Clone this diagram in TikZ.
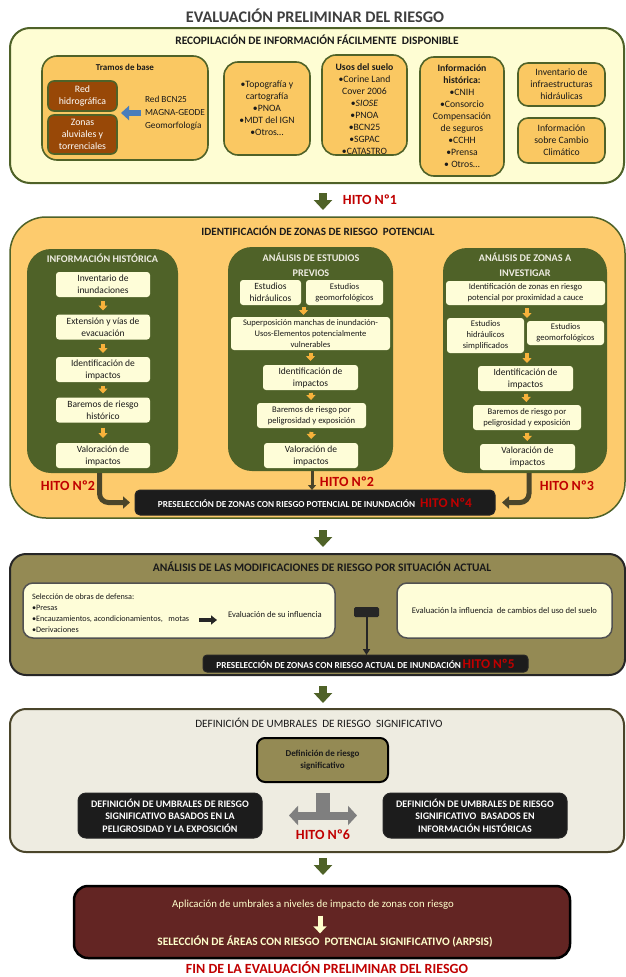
\documentclass[tikz,border=0pt]{standalone}
\usepackage{fontspec}
\setmainfont{Carlito}
\usetikzlibrary{arrows.meta,calc}
\definecolor{ogreen}{HTML}{4F6228}
\definecolor{secone}{HTML}{FEFDD3}
\definecolor{obox}{HTML}{FAC862}
\definecolor{sectwo}{HTML}{FDCB6D}
\definecolor{brownbox}{HTML}{984807}
\definecolor{panelt}{HTML}{EEECE1}
\definecolor{creambox}{HTML}{FEFDD8}
\definecolor{oarrow}{HTML}{F7B23B}
\definecolor{darkarr}{HTML}{4A452A}
\definecolor{barblack}{HTML}{1C1C1C}
\definecolor{khaki}{HTML}{948A54}
\definecolor{secfour}{HTML}{EEECE1}
\definecolor{maroonb}{HTML}{632523}
\definecolor{hitored}{HTML}{C00000}
\definecolor{titlegray}{HTML}{3F3F3F}
\definecolor{bluearr}{HTML}{4A7EBB}
\definecolor{creamtxt}{HTML}{FFFFCC}
\definecolor{tgray}{HTML}{7F7F7F}
\definecolor{txtdark}{HTML}{1A1A1A}
\definecolor{edgedark}{HTML}{262626}
\newcommand{\fsz}[2]{\fontsize{#1}{#2}\selectfont}
\begin{document}
\begin{tikzpicture}[x=1pt,y=-1pt,
  every node/.style={inner sep=0pt, outer sep=0pt},
  sectonebox/.style={draw=ogreen, line width=2pt, fill=secone, rounded corners=20pt},
  ob/.style={draw=ogreen, line width=1.6pt, fill=obox, rounded corners=12pt, align=center, font=\fsz{9.7}{12}, text=txtdark},
  obtext/.style={align=center, font=\fsz{9.7}{12}, text=txtdark},
  brb/.style={draw=ogreen, line width=1.6pt, fill=brownbox, rounded corners=6pt, align=center, text=white, font=\fsz{9.8}{12}},
  secttwobox/.style={draw=ogreen, line width=1.5pt, fill=sectwo, rounded corners=36pt},
  panel/.style={fill=ogreen, rounded corners=24pt},
  paneltitle/.style={align=center, font=\bfseries\fsz{10.2}{15}, text=panelt},
  pbox/.style={fill=creambox, rounded corners=3pt, align=center, font=\fsz{9.5}{12}, text=txtdark},
  pboxs/.style={pbox, font=\fsz{8.6}{11}},
  sarrow/.style={draw=oarrow, line width=4pt, -{Triangle[width=9pt,length=5pt]}},
  carrow/.style={draw=darkarr, line width=5pt, rounded corners=9pt, -{Triangle[width=12pt,length=7pt]}},
  marrow/.style={draw=darkarr, line width=3pt, -{Triangle[width=8pt,length=5pt]}},
  garrow/.style={draw=ogreen, line width=8pt, -{Triangle[width=18pt,length=10pt]}},
  bararea/.style={fill=barblack, draw=edgedark, line width=1pt, rounded corners=5pt, text=white},
  hito/.style={font=\bfseries\fsz{14}{16}, text=hitored},
  headtxt/.style={font=\bfseries\fsz{11.3}{13}, text=txtdark},
  sectthreebox/.style={draw=edgedark, line width=2pt, fill=khaki, rounded corners=16pt},
  creaminner/.style={draw=edgedark!80, line width=1.5pt, fill=creambox, rounded corners=10pt},
  sectfourbox/.style={draw=darkarr, line width=2pt, fill=secfour, rounded corners=16pt},
  blackbox/.style={fill=barblack, draw=edgedark, line width=1pt, rounded corners=8pt, text=white, align=center, font=\bfseries\fsz{10}{12.5}}
]
\useasboundingbox (0,0) rectangle (626,977);
\fill[white] (0,0) rectangle (626,977);

% ---------- title ----------
\node[font=\bfseries\fsz{16.2}{18}, text=titlegray] (title) at (315,16) {EVALUACIÓN PRELIMINAR DEL RIESGO};

% ---------- section 1 ----------
\node[sectonebox, minimum width=614pt, minimum height=155pt] (sec1) at (317,105.5) {};
\node[headtxt, font=\bfseries\fsz{11.4}{13}] (h1) at (317,40) {RECOPILACIÓN DE INFORMACIÓN FÁCILMENTE~ DISPONIBLE};

\node[ob, minimum width=166pt, minimum height=104pt, rounded corners=15pt] (tramos) at (125,108) {};
\node[font=\bfseries\fsz{9}{11}, text=txtdark] (tramost) at (125,67) {Tramos de base};
\node[brb, minimum width=69pt, minimum height=30pt] (redh) at (82.5,96) {Red\\hidrográfica};
\node[brb, minimum width=69pt, minimum height=39pt] (zonas) at (82.5,134.5) {Zonas\\aluviales y\\torrenciales};
\node[anchor=west, align=left, font=\fsz{9.3}{13}, text=txtdark] (bcn) at (145,113) {Red BCN25\\MAGNA-GEODE\\Geomorfología};
\coordinate (bluetip) at (121,113);
\draw[draw=bluearr, line width=6pt, -{Triangle[width=14pt,length=8pt]}] ([xshift=-4pt]bcn.west) -- (bluetip);

\node[ob, minimum width=86pt, minimum height=93pt, rounded corners=14pt] (topo) at (267,108.5) {•Topografía y\\cartografía\\•PNOA\\•MDT del IGN\\•Otros…};
\node[ob, minimum width=85pt, minimum height=100pt, rounded corners=14pt] (usos) at (364.5,105) {};
\node[obtext] (usost) at (364.5,109) {\textbf{Usos del suelo}\\•Corine Land\\Cover 2006\\•\textit{SIOSE}\\•PNOA\\•BCN25\\•SGPAC\\•CATASTRO};
\node[ob, minimum width=84pt, minimum height=119pt, rounded corners=14pt] (infoh) at (462,116.5) {\textbf{Información}\\\textbf{histórica:}\\•CNIH\\•Consorcio\\Compensación\\de seguros\\•CCHH\\•Prensa\\• Otros…};
\node[ob, minimum width=87pt, minimum height=43pt, rounded corners=10pt] (invent) at (561.5,84.5) {Inventario de\\infraestructuras\\hidráulicas};
\node[ob, minimum width=87pt, minimum height=45pt, rounded corners=10pt] (cambio) at (561.5,140.5) {Información\\sobre Cambio\\Climático};

% ---------- arrow 1 ----------
\coordinate (g1a) at (323,193);
\coordinate (g1b) at (323,210);
\draw[garrow] (g1a) -- (g1b);
\node[hito] (hito1) at (370,200) {HITO Nº1};

% ---------- section 2 ----------
\node[secttwobox, minimum width=615pt, minimum height=301pt] (sec2) at (317.5,367.5) {};
\node[headtxt, font=\bfseries\fsz{11.1}{13}] (h2) at (318,231) {IDENTIFICACIÓN DE ZONAS DE RIESGO~ POTENCIAL};

% panel 1
\node[panel, minimum width=151pt, minimum height=224pt] (p1) at (102.5,361) {};
\node[paneltitle] (p1t) at (102.5,258) {INFORMACIÓN HISTÓRICA};
\node[pbox, minimum width=94pt, minimum height=25pt] (b11) at (103,284.5) {Inventario de\\inundaciones};
\node[pbox, minimum width=94pt, minimum height=25pt] (b12) at (103,327) {Extensión y vías de\\evacuación};
\node[pbox, minimum width=94pt, minimum height=25pt] (b13) at (103,369.5) {Identificación de\\impactos};
\node[pbox, minimum width=94pt, minimum height=25pt] (b14) at (103,410) {Baremos de riesgo\\histórico};
\node[pbox, minimum width=94pt, minimum height=25pt] (b15) at (103,455.5) {Valoración de\\impactos};
\draw[sarrow, shorten <=4pt, shorten >=4pt] (b11) -- (b12);
\draw[sarrow, shorten <=4pt, shorten >=4pt] (b12) -- (b13);
\draw[sarrow, shorten <=4pt, shorten >=4pt] (b13) -- (b14);
\draw[sarrow, shorten <=5pt, shorten >=5pt] (b14) -- (b15);

% panel 2
\node[panel, minimum width=165pt, minimum height=224pt] (p2) at (310.5,359) {};
\node[paneltitle] (p2t) at (311,264.5) {ANÁLISIS DE ESTUDIOS\\PREVIOS};
\node[pbox, minimum width=61pt, minimum height=25pt] (e1) at (270.5,292.5) {Estudios\\hidráulicos};
\node[pboxs, minimum width=77pt, minimum height=25pt] (e2) at (344.5,292.5) {Estudios\\geomorfológicos};
\node[pboxs, minimum width=159pt, minimum height=33pt, font=\fsz{8.5}{11}] (e3) at (310.5,333.5) {Superposición manchas de inundación-\\Usos-Elementos potencialmente\\vulnerables};
\node[pbox, minimum width=95pt, minimum height=25pt] (e4) at (310.5,377.5) {Identificación de\\impactos};
\node[pboxs, minimum width=109pt, minimum height=25pt] (e5) at (311.5,415.5) {Baremos de riesgo por\\peligrosidad y exposición};
\node[pbox, minimum width=94pt, minimum height=25pt] (e6) at (311,455.5) {Valoración de\\impactos};
\coordinate (e12) at ($(e1.south east)!0.5!(e2.south west)$);
\draw[sarrow, shorten <=2pt, shorten >=2pt] (e12) -- (e12 |- e3.north);
\draw[sarrow, shorten <=3pt, shorten >=4pt] (e3) -- (e4);
\draw[sarrow, shorten <=3pt, shorten >=3pt] (e4) -- (e5);
\draw[sarrow, shorten <=4pt, shorten >=4pt] (e5) -- (e6);

% panel 3
\node[panel, minimum width=164pt, minimum height=225pt] (p3) at (525,360.5) {};
\node[paneltitle] (p3t) at (525,265) {ANÁLISIS DE ZONAS A\\INVESTIGAR};
\node[pboxs, minimum width=159pt, minimum height=24pt] (z1) at (525.5,293) {Identificación de zonas en riesgo\\potencial por proximidad a cauce};
\node[pboxs, minimum width=77pt, minimum height=35pt] (z2) at (485.5,335.5) {Estudios\\hidráulicos\\simplificados};
\node[pboxs, minimum width=77pt, minimum height=24pt] (z3) at (565.5,333) {Estudios\\geomorfológicos};
\node[pbox, minimum width=95pt, minimum height=25pt] (z4) at (525.5,378.5) {Identificación de\\impactos};
\node[pboxs, minimum width=108pt, minimum height=25pt] (z5) at (527,417.5) {Baremos de riesgo por\\peligrosidad y exposición};
\node[pbox, minimum width=95pt, minimum height=26pt] (z6) at (527.5,457) {Valoración de\\impactos};
\draw[sarrow, shorten <=3pt] ([xshift=1.5pt]z1.south) -- ([xshift=1.5pt]z1.south |- z2.north);
\draw[sarrow, shorten >=3pt] ([xshift=1.5pt]z4.north |- z2.south) -- ([xshift=1.5pt]z4.north);
\draw[sarrow, shorten <=3pt, shorten >=3pt] (z4) -- (z5);
\draw[sarrow, shorten <=3pt, shorten >=3pt] (z5) -- (z6);

% preselection bar 1
\node[bararea, minimum width=360pt, minimum height=25pt] (bar1) at (315,502.5) {{\bfseries\fsz{9.2}{10}PRESELECCIÓN DE ZONAS CON RIESGO POTENCIAL DE INUNDACIÓN}\enspace{\bfseries\fsz{13.4}{14}\textcolor{hitored}{HITO Nº4}}};
\draw[carrow] ([xshift=-3pt]p1.south) |- ([xshift=-5pt]bar1.west);
\draw[marrow] ([xshift=1.5pt]p2.south) -- ([xshift=1.5pt]p2.south |- bar1.north);
\draw[carrow] ([xshift=4pt]p3.south) |- ([xshift=7pt]bar1.east);
\node[hito] (hito2a) at (68,486) {HITO Nº2};
\node[hito] (hito2b) at (347,482) {HITO Nº2};
\node[hito] (hito3) at (567,486) {HITO Nº3};

% ---------- arrow 2 ----------
\coordinate (g2a) at (323,530);
\coordinate (g2b) at (323,547);
\draw[garrow] (g2a) -- (g2b);

% ---------- section 3 ----------
\node[sectthreebox, minimum width=615pt, minimum height=121pt] (sec3) at (317.5,614.5) {};
\node[headtxt, font=\bfseries\fsz{11.5}{13}] (h3) at (322,567) {ANÁLISIS DE LAS MODIFICACIONES DE RIESGO POR SITUACIÓN ACTUAL};
\node[creaminner, minimum width=312pt, minimum height=55pt] (lbox3) at (179,610.5) {};
\node[anchor=west, align=left, font=\fsz{8.2}{10.8}, text=txtdark] (obras) at (32,613) {Selección de obras de defensa:\\•Presas\\•Encauzamientos, acondicionamientos,~~ motas\\•Derivaciones};
\node[anchor=west, font=\fsz{8.6}{10}, text=txtdark] (ev1) at (228,615) {Evaluación de su influencia};
\coordinate (ka) at (199,620);
\coordinate (kb) at (217,620);
\draw[draw=edgedark, line width=4pt, -{Triangle[width=9pt,length=6pt]}] (ka) -- (kb);
\node[creaminner, minimum width=215pt, minimum height=55pt, font=\fsz{8.6}{10}, text=txtdark] (rbox3) at (504.5,610.5) {Evaluación la influencia~ de cambios del uso del suelo};
\node[fill=edgedark, minimum width=25pt, minimum height=10pt, rounded corners=1.5pt] (tbar) at (366.5,612) {};
\node[bararea, minimum width=325pt, minimum height=17pt, rounded corners=4pt] (bar2) at (365.5,663.5) {{\bfseries\fsz{9.2}{10}PRESELECCIÓN DE ZONAS CON RIESGO ACTUAL DE INUNDACIÓN}\,{\bfseries\fsz{13.4}{14}\textcolor{hitored}{HITO Nº5}}};
\draw[draw=edgedark, line width=2pt, -{Triangle[width=7pt,length=6pt]}] (tbar.south) -- (tbar.south |- bar2.north);

% ---------- arrow 3 ----------
\coordinate (g3a) at (323,686);
\coordinate (g3b) at (323,703);
\draw[garrow] (g3a) -- (g3b);

% ---------- section 4 ----------
\node[sectfourbox, minimum width=614pt, minimum height=143pt] (sec4) at (317,780.5) {};
\node[font=\fsz{11.2}{13}, text=txtdark] (h4) at (319,723) {DEFINICIÓN DE UMBRALES~ DE RIESGO~ SIGNIFICATIVO};
\node[fill=khaki, draw=black, line width=2pt, rounded corners=8pt, minimum width=131pt, minimum height=44pt, align=center, font=\bfseries\fsz{9}{12}, text=txtdark] (defbox) at (322.5,760) {Definición de riesgo\\significativo};
\node[blackbox, minimum width=184pt, minimum height=45pt] (lbox4) at (170,815.5) {DEFINICIÓN DE UMBRALES DE RIESGO\\SIGNIFICATIVO BASADOS EN LA\\PELIGROSIDAD Y LA EXPOSICIÓN};
\node[blackbox, minimum width=184pt, minimum height=45pt] (rbox4) at (475,815.5) {DEFINICIÓN DE UMBRALES DE RIESGO\\SIGNIFICATIVO~ BASADOS EN\\INFORMACIÓN HISTÓRICAS};
\draw[draw=tgray, line width=14pt] ([yshift=-11pt]defbox.south) -- (defbox.south |- lbox4.east);
\draw[draw=tgray, line width=8pt, {Triangle[width=19pt,length=9pt]}-{Triangle[width=19pt,length=9pt]}] ([xshift=27pt]lbox4.east) -- ([xshift=-26pt]rbox4.west);
\node[hito] (hito6) at (323,835) {HITO Nº6};

% ---------- arrow 4 ----------
\coordinate (g4a) at (323,858);
\coordinate (g4b) at (323,875);
\draw[garrow] (g4a) -- (g4b);

% ---------- final box ----------
\node[fill=maroonb, draw=black, line width=2.5pt, rounded corners=14pt, minimum width=496pt, minimum height=72pt] (final) at (322,922) {};
\node[font=\fsz{10.8}{12}, text=creamtxt] (apl) at (313,905) {Aplicación de umbrales a niveles de impacto de zonas con riesgo};
\node[font=\bfseries\fsz{11.4}{13}, text=creamtxt] (sel) at (325,942) {SELECCIÓN DE ÁREAS CON RIESGO~ POTENCIAL SIGNIFICATIVO (ARPSIS)};
\draw[draw=creamtxt, line width=5pt, -{Triangle[width=13pt,length=7pt]}] ([xshift=7pt,yshift=-6pt]apl.south) -- ([xshift=7pt,yshift=3pt]apl.south |- sel.north);
\node[font=\bfseries\fsz{14}{16}, text=hitored] (fin) at (327,968) {FIN DE LA EVALUACIÓN PRELIMINAR DEL RIESGO};
\end{tikzpicture}
\end{document}
